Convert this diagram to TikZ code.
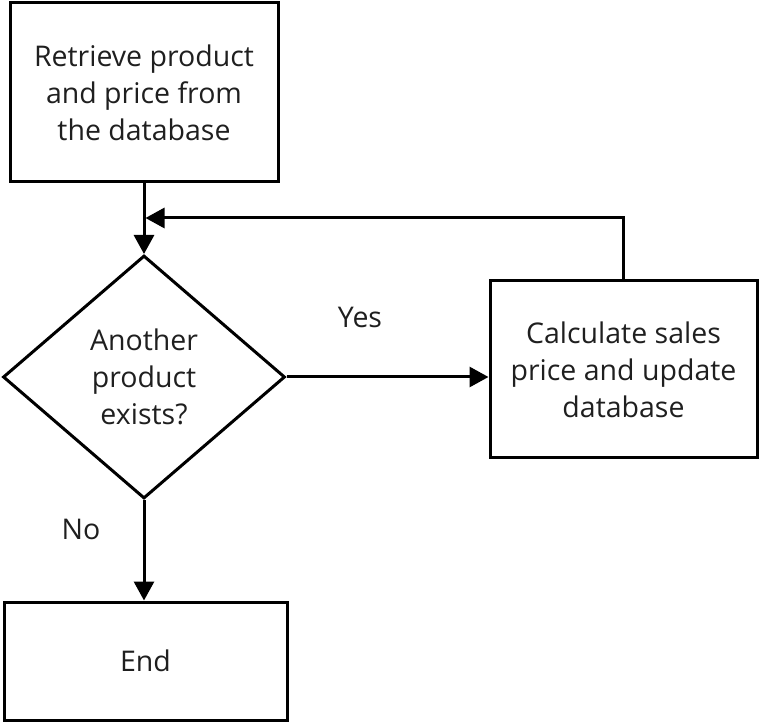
\documentclass[tikz,border=0pt]{standalone}
\usepackage{fontspec}
\setmainfont{Open Sans}
\usetikzlibrary{shapes.geometric,arrows.meta}
\begin{document}
\begin{tikzpicture}[x=1pt,y=-1pt,
  every node/.style={font=\fontsize{28.5}{37}\selectfont, text=black!88},
  boxnode/.style={draw=black, line width=3pt, rectangle, inner sep=0pt, align=center},
  decnode/.style={draw=black, line width=3pt, diamond, inner sep=0pt, align=center},
  lbl/.style={inner sep=0pt},
  conn/.style={line width=3pt, -{Triangle[length=19pt,width=20pt]}}]
\useasboundingbox (0,0) rectangle (764,727);
\node[boxnode, minimum width=268pt, minimum height=179pt] (retrieve) at (144,92.5)
  {Retrieve product\\and price from\\the database};
\node[decnode, minimum width=282pt, minimum height=243pt] (decide) at (144,377)
  {Another\\product\\exists?};
\node[boxnode, minimum width=267pt, minimum height=177pt] (calc) at (623.5,369.5)
  {Calculate sales\\price and update\\database};
\node[boxnode, minimum width=283pt, minimum height=118pt] (end) at (145.5,661) {End};
\node[lbl] (yes) at (360,317) {Yes};
\node[lbl] (no) at (81,529) {No};
\coordinate (join) at (145.5,218);
\draw[conn] (retrieve.south) -- (decide.north);
\draw[conn] (calc.north) |- (join);
\draw[conn] (decide.east) -- (decide.east -| calc.west);
\draw[conn] (decide.south) -- (decide.south |- end.north);
\end{tikzpicture}
\end{document}
